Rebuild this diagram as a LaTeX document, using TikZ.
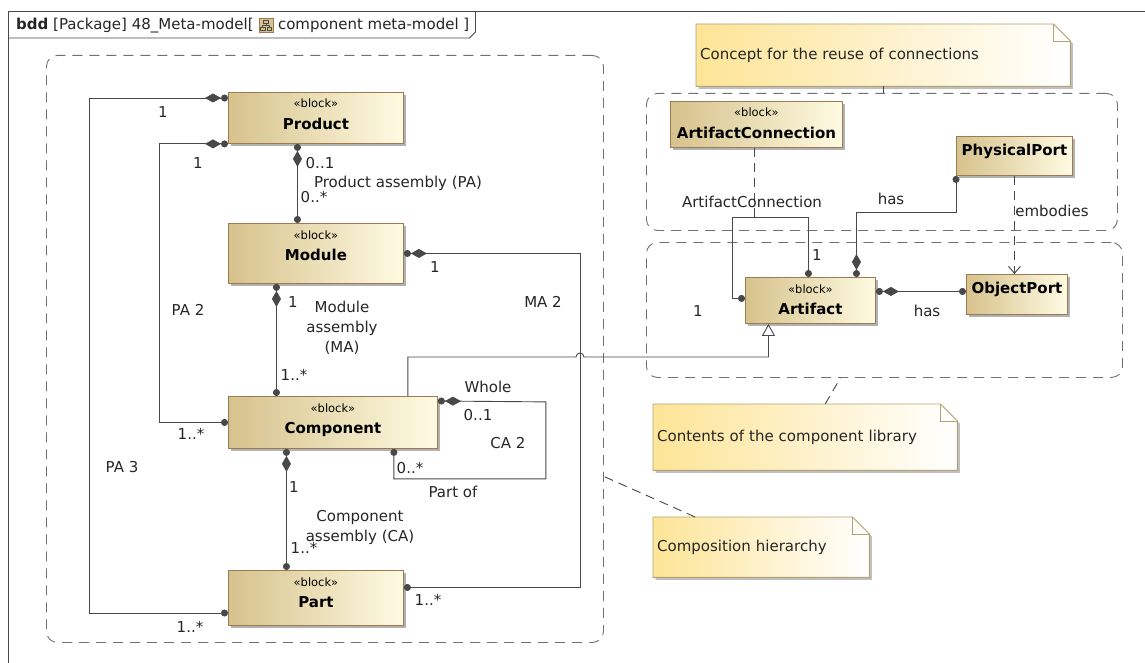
\documentclass[tikz,border=0pt]{standalone}
\usepackage{fontspec}
\setmainfont{DejaVu Sans}
\usepackage{tikz}
\usetikzlibrary{arrows.meta,shadows,calc}

\definecolor{blockleft}{RGB}{214,194,140}
\definecolor{blockright}{RGB}{255,251,226}
\definecolor{blockedge}{RGB}{158,122,84}
\definecolor{noteleft}{RGB}{253,228,150}
\definecolor{noteedge}{RGB}{178,162,118}
\definecolor{wire}{RGB}{72,72,72}
\definecolor{regionline}{RGB}{112,112,112}

\pgfdeclarelayer{background}
\pgfsetlayers{background,main}

\tikzset{
  txt/.style={font=\fontsize{15}{20}\selectfont, text=black!85, inner sep=0pt},
  mult/.style={txt, text height=11pt, text depth=0pt},
  block/.style={draw=blockedge, line width=.9pt, left color=blockleft, right color=blockright,
    drop shadow={shadow xshift=2.5pt, shadow yshift=-2.5pt, fill=black, opacity=.3},
    anchor=north west, inner sep=0pt, font=\fontsize{15}{18}\selectfont\bfseries},
  stereo/.style={anchor=base, yshift=-16pt, inner sep=0pt, text height=8pt, text depth=2pt,
    font=\fontsize{11.5}{13}\selectfont},
  sblock/.style={block, text height=37pt, label={[stereo]north:«block»}},
  pblock/.style={block, text height=19pt},
  region/.style={draw=regionline, line width=.9pt, dash pattern=on 10pt off 7pt,
    rounded corners=11pt, anchor=north west, inner sep=0pt},
  note/.style={txt, anchor=north west, inner xsep=4pt, align=left},
  compo/.style={draw=wire, line width=.9pt, {Circle[length=7pt]}-{Diamond[length=16pt,width=9pt]Circle[length=7pt]}},
  assoc/.style={draw=wire, line width=.9pt, {Circle[length=7pt]}-{Circle[length=7pt]}},
  gen/.style={draw=wire, line width=.9pt, -{Triangle[open,length=12pt,width=13pt]}},
  dep/.style={draw=wire, line width=.9pt, dash pattern=on 9pt off 6pt, -{Straight Barb[length=7pt,width=12pt]}},
  trace/.style={draw=wire, line width=.9pt, dash pattern=on 9pt off 6pt},
}

\begin{document}
\begin{tikzpicture}[x=1pt,y=-1pt]
    \useasboundingbox (0,0) rectangle (1145,663);

    % frame and its name tab
    \draw[wire, line width=.9pt] (8,663) -- (8,11) -- (1145,11);
    \node[txt, anchor=base west] (title) at (16,30) {\textbf{bdd} [Package] 48\_Meta-model[};
    \coordinate (icon) at ([xshift=5pt,yshift=-2pt]title.base east);
    \draw[blockedge, fill=blockleft, line width=.6pt] (icon) rectangle ++(14,-14);
    \draw[black!70, line width=.6pt] ($(icon)+(4.5,-12)$) rectangle ++(5,3.5)
        ($(icon)+(1.5,-5)$) rectangle ++(4.5,3.5) ($(icon)+(8,-5)$) rectangle ++(4.5,3.5)
        ($(icon)+(7,-8.5)$) -- ++(0,1.8) ($(icon)+(3.8,-5)$) |- ($(icon)+(10.2,-6.7)$) -- ++(0,1.7);
    \node[txt, anchor=base west] (title2) at ([xshift=24pt]title.base east) {component meta-model ]};
    \coordinate (tabr) at ([xshift=6pt]title2.east);
    \draw[wire, line width=.9pt] (8,38) -- ($(tabr |- 0,38)+(-6,0)$) -- (tabr |- 0,32) -- (tabr |- 0,11);

    % regions
    \node[region, minimum width=557pt, minimum height=587pt] (hier) at (46,55) {};
    \node[region, minimum width=471pt, minimum height=137pt] (reuse) at (646,93) {};
    \node[region, minimum width=476pt, minimum height=135pt] (library) at (646,242) {};

    % blocks
    \node[sblock, minimum width=175pt, text depth=14pt] (product) at (228,92) {Product};
    \node[sblock, minimum width=175pt, text depth=23pt] (module) at (228,223) {Module};
    \node[sblock, minimum width=209pt, text depth=15pt] (component) at (228,396) {Component};
    \node[sblock, minimum width=175pt, text depth=18pt] (part) at (228,570) {Part};
    \node[sblock, minimum width=130pt, text depth=9pt] (artifact) at (745,277) {Artifact};
    \node[sblock, minimum width=172pt, text depth=9pt] (artconn) at (670,101) {ArtifactConnection};
    \node[pblock, minimum width=116pt, text depth=20pt] (physport) at (956,136) {PhysicalPort};
    \node[pblock, minimum width=101pt, text depth=21pt] (objport) at (966,274) {ObjectPort};

    % notes
    \node[note, text width=366pt, minimum height=62pt] (concept) at (696,24) {Concept for the reuse of connections};
    \node[note, text width=296pt, minimum height=66pt] (contents) at (653,404) {Contents of the component library};
    \node[note, text width=208pt, minimum height=60pt] (hierarchy) at (653,517) {Composition hierarchy};
    \begin{pgfonlayer}{background}
        \fill[white] (0,0) rectangle (1145,663);
        \foreach \n in {concept,contents,hierarchy}
        {
            \shadedraw[left color=noteleft, right color=white, draw=noteedge, line width=.9pt,
                drop shadow={shadow xshift=2.5pt, shadow yshift=-2.5pt, fill=black, opacity=.25}]
                (\n.north west) -- ([xshift=-17pt]\n.north east) -- ([yshift=-17pt]\n.north east)
                -- (\n.south east) -- (\n.south west) -- cycle;
            \draw[noteedge, line width=.9pt] ([xshift=-17pt]\n.north east) |- ([yshift=-17pt]\n.north east);
        }
    \end{pgfonlayer}
    \draw[wire, line width=.9pt] (concept.south) -- (concept.south |- reuse.north);
    \draw[trace] ([xshift=20pt]contents.north) -- ([xshift=-44pt]library.south);
    \draw[trace] ([xshift=-66pt]hierarchy.north) -- ([yshift=-127.5pt]hier.east);

    % composition hierarchy
    \draw[compo] ([yshift=-43pt]part.north west) -- ++(-139,0) |- ([yshift=-6pt]product.north west);
    \draw[compo] (component.west) -- ++(-69,0) |- (product.south west);
    \draw[compo] ([xshift=-18.5pt]module.north) -- ([xshift=-18.5pt]product.south);
    \draw[compo] ([xshift=-56.5pt]component.north) -- ([xshift=-39.5pt]module.south);
    \draw[compo] ([yshift=10.5pt]part.east) -- ++(177,0) |- (module.east);
    \draw[compo] ([xshift=-29.5pt]part.north) -- ([xshift=-46.5pt]component.south);
    \draw[compo] ([xshift=-44pt]component.south east) -- ++(0,30) -- ++(152,0) -- ++(0,-77) -- ([yshift=-5pt]component.north east);

    \coordinate (hop) at (580,357);
    \coordinate (gx) at ([xshift=-42pt]artifact.south);
    \draw[gen] ([xshift=-30pt]component.north east) |- ([xshift=-4pt]hop)
        arc[start angle=180, end angle=0, radius=4pt] -- (hop -| gx) -- (gx);

    % library
    \coordinate (ac) at (754,217);
    \coordinate (atop) at ([xshift=-2pt]artifact.north);
    \draw[assoc] ([yshift=2pt]artifact.west) -- ++(-13,0) |- (atop |- ac) -- (atop);
    \draw[trace] (ac |- artconn.south) -- (ac);
    \draw[compo] (physport.south west) -- ++(0,37) -| ([xshift=46pt]artifact.north);
    \coordinate (op) at ([yshift=3pt]objport.west);
    \draw[compo] (op) -- (op -| artifact.east);
    \draw[dep] (physport.south) -- (physport.south |- objport.north);

    % role names and multiplicities
    \node[mult] (pa3-own) at (163,112) {1};
    \node[mult] (pa3-part) at (190,627) {1..*};
    \node[mult] (pa3) at (122,467) {PA 3};
    \node[mult] (pa2-own) at (198,163) {1};
    \node[mult] (pa2-part) at (191,434) {1..*};
    \node[mult] (pa2) at (188,310) {PA 2};
    \node[mult] (pa-own) at (320,163) {0..1};
    \node[mult] (pa) at (398,182) {Product assembly (PA)};
    \node[mult] (pa-part) at (314,197) {0..*};
    \node[mult] (ma-own) at (293,302) {1};
    \node[txt, align=center] (ma) at (342,328) {Module\\assembly\\(MA)};
    \node[mult] (ma-part) at (294,375) {1..*};
    \node[mult] (ma2-own) at (435,267) {1};
    \node[mult] (ma2) at (543,302) {MA 2};
    \node[mult] (ma2-part) at (428,600) {1..*};
    \node[mult] (ca-own) at (294,487) {1};
    \node[txt, align=center] (ca) at (360,527) {Component\\assembly (CA)};
    \node[mult] (ca-part) at (304,548) {1..*};
    \node[mult] (whole) at (488,387) {Whole};
    \node[mult] (ca2-own) at (478,415) {0..1};
    \node[mult] (ca2) at (508,443) {CA 2};
    \node[mult] (ca2-part) at (410,468) {0..*};
    \node[mult] (partof) at (453,492) {Part of};
    \node[mult] (ac-name) at (752,202) {ArtifactConnection};
    \node[mult] (ac-top) at (817,255) {1};
    \node[mult] (ac-left) at (698,311) {1};
    \node[mult] (has-pp) at (891,199) {has};
    \node[mult] (has-op) at (927,311) {has};
    \node[mult] (embodies) at (1052,211) {embodies};
\end{tikzpicture}
\end{document}
